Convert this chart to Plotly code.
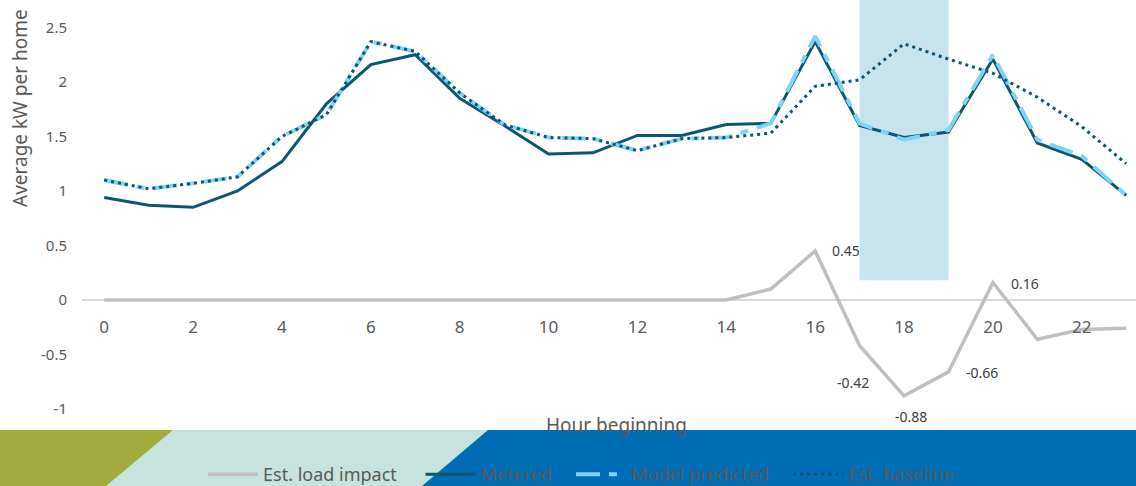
import plotly.graph_objects as go

# ---------------- data ----------------
hours = list(range(24))
metered = [0.94, 0.87, 0.85, 1.00, 1.27, 1.80, 2.16, 2.25, 1.85, 1.60, 1.34, 1.35,
           1.51, 1.51, 1.61, 1.62, 2.37, 1.60, 1.49, 1.54, 2.21, 1.44, 1.29, 0.96]
model_predicted = [1.10, 1.02, 1.07, 1.13, 1.50, 1.70, 2.37, 2.28, 1.90, 1.61, 1.49, 1.48,
                   1.37, 1.48, 1.49, 1.62, 2.42, 1.62, 1.47, 1.56, 2.25, 1.47, 1.32, 0.96]
baseline = [1.10, 1.02, 1.07, 1.13, 1.50, 1.70, 2.37, 2.28, 1.90, 1.61, 1.49, 1.48,
            1.37, 1.48, 1.49, 1.53, 1.96, 2.02, 2.35, 2.21, 2.08, 1.86, 1.59, 1.25]
load_impact = [0, 0, 0, 0, 0, 0, 0, 0, 0, 0, 0, 0,
               0, 0, 0, 0.10, 0.45, -0.42, -0.88, -0.66, 0.16, -0.36, -0.27, -0.26]
series_names = ["Est. load impact", "Metered", "Model predicted", "Est. baseline"]
label_hours = [16, 17, 18, 19, 20]
label_texts = ["0.45", "-0.42", "-0.88", "-0.66", "0.16"]
event_start, event_end = 17, 19
event_bottom = 0.18
x_ticks = list(range(0, 24, 2))
y_ticks = [-1, -0.5, 0, 0.5, 1, 1.5, 2, 2.5]

# ---------------- layout constants ----------------
W, H = 1136, 486
ML, MR, MT, MB = 82, 0, 0, 0
PW, PH = W - ML - MR, H - MT - MB
XR = [-0.5, 23.22]
Y_TOP = 2.752
PX_PER_UNIT = 109.0
YR = [Y_TOP - PH / PX_PER_UNIT, Y_TOP]
BANNER_TOP = 430
FONT = "Noto Sans"
GREY_TXT = "#595959"
NB = "\u00a0"
name_pads = [4, 3, 3, 0]


def px_x(px):
    return (px - ML) / PW


def px_y(py):
    return (MT + PH - py) / PH


fig = go.Figure()

fig.add_trace(go.Scatter(x=hours, y=load_impact, mode="lines",
                         name=series_names[0] + NB * name_pads[0],
                         line=dict(color="#BFBFBF", width=3.5)))
fig.add_trace(go.Scatter(x=hours, y=metered, mode="lines",
                         name=series_names[1] + NB * name_pads[1],
                         line=dict(color="#0C5672", width=3)))
fig.add_trace(go.Scatter(x=hours, y=model_predicted, mode="lines",
                         name=series_names[2] + NB * name_pads[2],
                         line=dict(color="#7FD3F5", width=4, dash="24px,9px,8px,9px")))
fig.add_trace(go.Scatter(x=hours, y=baseline, mode="lines",
                         name=series_names[3] + NB * name_pads[3],
                         line=dict(color="#0C5672", width=3, dash="3px,4px")))

# data labels on load impact
offsets = [(31, 0), (-7, -37), (7, -21), (34, -1), (32, -1)]
for h, t, (dx, dy) in zip(label_hours, label_texts, offsets):
    fig.add_annotation(x=h, y=load_impact[hours.index(h)], text=t, showarrow=False,
                       xshift=dx, yshift=dy, font=dict(family=FONT, size=14, color="#404040"))

shapes = []
# event window highlight
shapes.append(dict(type="rect", xref="x", yref="y", x0=event_start, x1=event_end,
                   y0=event_bottom, y1=YR[1], fillcolor="#C6E3EE", line=dict(width=0),
                   layer="below"))
# bottom banner
shapes.append(dict(type="rect", xref="paper", yref="paper", x0=px_x(0), x1=px_x(W),
                   y0=px_y(H), y1=px_y(BANNER_TOP), fillcolor="#006EB6", line=dict(width=0),
                   layer="below"))


def poly(pts):
    return "M " + " L ".join(f"{px_x(a):.5f},{px_y(b):.5f}" for a, b in pts) + " Z"


shapes.append(dict(type="path", xref="paper", yref="paper",
                   path=poly([(0, BANNER_TOP), (488, BANNER_TOP), (422, H), (0, H)]),
                   fillcolor="#C6E4DD", line=dict(width=0), layer="below"))
shapes.append(dict(type="path", xref="paper", yref="paper",
                   path=poly([(0, BANNER_TOP), (173, BANNER_TOP), (106, H), (0, H)]),
                   fillcolor="#A2AC3E", line=dict(width=0), layer="below"))

zero_pos = (0 - YR[0]) / (YR[1] - YR[0])

fig.update_layout(
    width=W, height=H, autosize=False,
    margin=dict(l=ML, r=MR, t=MT, b=MB, pad=0, autoexpand=False),
    paper_bgcolor="white", plot_bgcolor="white",
    shapes=shapes,
    showlegend=True,
    legend=dict(orientation="h", x=px_x(203), xanchor="left", y=px_y(493), yanchor="bottom",
                font=dict(family=FONT, size=18, color=GREY_TXT), bgcolor="rgba(0,0,0,0)",
                itemwidth=50),
    xaxis=dict(range=XR, tickvals=x_ticks, showgrid=False, zeroline=False, showline=False,
               anchor="free", position=zero_pos, ticks="", ticklabelstandoff=15,
               tickfont=dict(family=FONT, size=17, color=GREY_TXT)),
    yaxis=dict(range=YR, tickvals=y_ticks, ticktext=[f"{v:g}" for v in y_ticks],
               showgrid=False, zeroline=True, zerolinecolor="#D9D9D9", zerolinewidth=2,
               showline=False, ticks="", ticklabelstandoff=14,
               tickfont=dict(family=FONT, size=15, color=GREY_TXT)),
)

fig.add_annotation(xref="paper", yref="paper", x=px_x(616), y=px_y(425), text="Hour beginning",
                   showarrow=False, xanchor="center", yanchor="middle",
                   font=dict(family=FONT, size=19, color=GREY_TXT))
fig.add_annotation(xref="paper", yref="paper", x=px_x(20), y=px_y(108),
                   text="Average kW per home", textangle=-90, showarrow=False,
                   xanchor="center", yanchor="middle",
                   font=dict(family=FONT, size=19, color=GREY_TXT))

fig.write_html("out.html", config={"responsive": False})
